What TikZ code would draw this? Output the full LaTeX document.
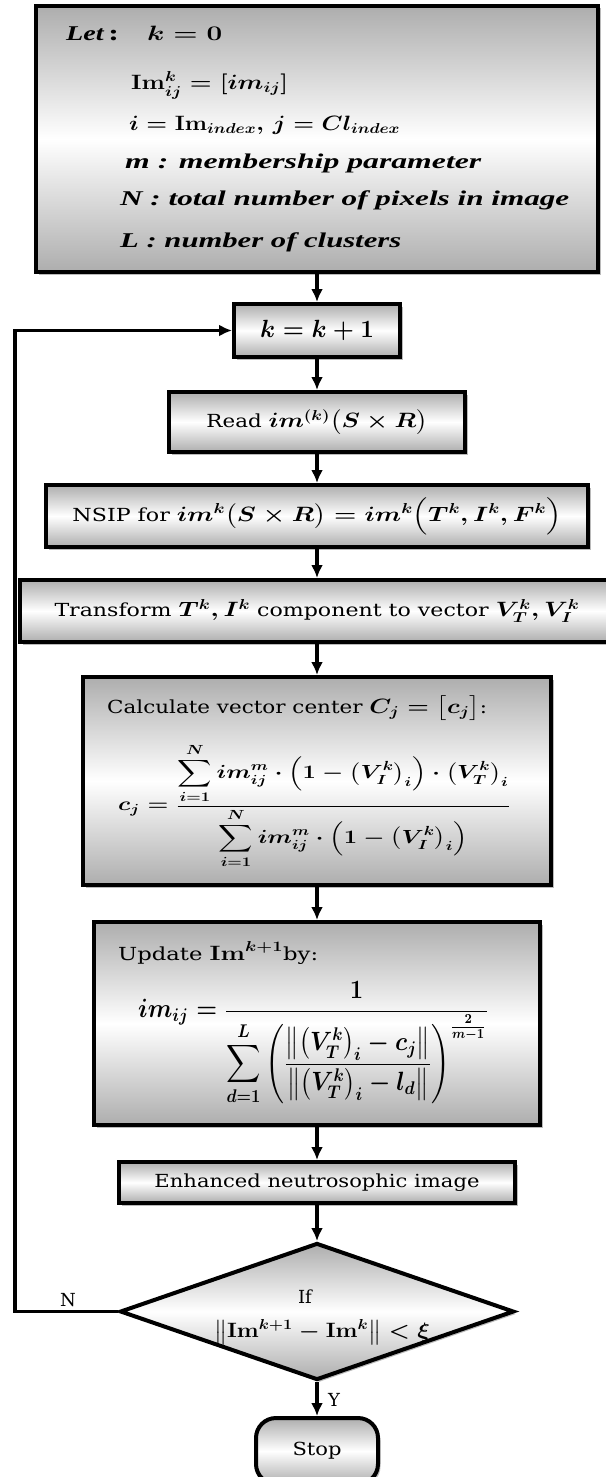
\documentclass[tikz,border=0pt]{standalone}
\usepackage{amsmath}
\usepackage{graphicx}
\usepackage[no-math]{fontspec}
\setmainfont{DejaVu Serif}
\newfontfamily\tnrfont{Liberation Serif}
\usetikzlibrary{shapes.geometric,shadows,arrows.meta}
\newcommand{\tnrbi}{\tnrfont\bfseries\itshape}
\newcommand{\fitw}[2]{\resizebox{#1pt}{\height}{#2}}
\newcommand{\fitwh}[3]{\resizebox*{#1pt}{#2pt}{#3}}
\newcommand{\mymath}[1]{{\fontsize{22}{26}\selectfont$#1$}}
\tikzset{
  box/.style={draw=black, line width=4pt, rectangle, inner sep=0pt,
    top color=black!32, bottom color=black!32, middle color=white,
    drop shadow={shadow xshift=2.5pt, shadow yshift=-2.5pt, fill=black!45, opacity=0.6},
    font=\fontsize{18}{22}\selectfont\boldmath},
  dia/.style={box, diamond},
  txt/.style={inner sep=0pt, font=\fontsize{18}{22}\selectfont\boldmath},
  ttxt/.style={inner sep=0pt, anchor=west, font=\fontsize{21}{25}\selectfont\boldmath},
  arr/.style={line width=3.6pt, -{Latex[length=13pt,width=12pt]}}
}
\begin{document}
\begin{tikzpicture}[x=1pt,y=-1pt]
\useasboundingbox (0,0) rectangle (605,1477);

% boxes
\node[box, minimum width=562pt, minimum height=266pt] (init) at (317,139) {};
\node[ttxt] (t1) at (66,33) {\fitw{156}{{\tnrbi Let}\,\textbf{:}\quad$k=0$}};
\node[ttxt] (t2) at (131,85) {\fitw{157}{$\mathbf{Im}^{k}_{ij}=\left[im_{ij}\right]$}};
\node[ttxt] (t3) at (129,125) {\fitw{271}{$i=\mathbf{Im}_{index},\,j=Cl_{index}$}};
\node[ttxt] (t4) at (125,163) {\fitw{356}{\tnrbi m : membership parameter}};
\node[ttxt] (t5) at (120,200) {\fitw{449}{\tnrbi N : total number of pixels in image}};
\node[ttxt] (t6) at (120,242) {\fitw{281}{\tnrbi L : number of clusters}};

\node[box, minimum width=166pt, minimum height=53pt] (kb) at (317,330.5)
  {\fitw{114}{\fontsize{25}{29}\selectfont$k=k+1$}};

\node[box, minimum width=296pt, minimum height=60pt] (read) at (317,422)
  {\fitw{221}{Read \mymath{im^{(k)}\bigl(S\times R\bigr)}}};

\node[box, minimum width=542pt, minimum height=62pt] (nsip) at (317,516)
  {\fitw{489}{NSIP for \mymath{im^{k}\bigl(S\times R\bigr)=im^{k}\Bigl(T^{k},I^{k},F^{k}\Bigr)}}};

\node[box, minimum width=594pt, minimum height=62pt] (trans) at (317,611)
  {\fitw{525}{Transform \mymath{T^{k},I^{k}} component to vector \mymath{V_T^{k},V_I^{k}}}};

\node[box, minimum width=468pt, minimum height=208pt] (calc) at (317,781) {};
\node[txt, anchor=west] (c1) at (107,708)
  {\fitw{380}{Calculate vector center \mymath{C_j=\bigl[c_j\bigr]}:}};
\node[txt, anchor=west] (c2) at (118,806)
  {\fitwh{392}{124}{$c_j=\dfrac{\displaystyle\sum_{i=1}^{N}im_{ij}^{m}\cdot\Bigl(1-\bigl(V_I^{k}\bigr)_i\Bigr)\cdot\bigl(V_T^{k}\bigr)_i}{\displaystyle\sum_{i=1}^{N}im_{ij}^{m}\cdot\Bigl(1-\bigl(V_I^{k}\bigr)_i\Bigr)}$}};

\node[box, minimum width=446pt, minimum height=203pt] (upd) at (317,1023.5) {};
\node[txt, anchor=west] (u1) at (118,953)
  {\fitw{200}{Update \mymath{\mathbf{Im}^{k+1}}by:}};
\node[txt, anchor=west] (u2) at (138,1043)
  {\fitwh{350}{124}{$im_{ij}=\dfrac{1}{\displaystyle\sum_{d=1}^{L}\left(\dfrac{\bigl\|\bigl(V_T^{k}\bigr)_i-c_j\bigr\|}{\bigl\|\bigl(V_T^{k}\bigr)_i-l_d\bigr\|}\right)^{\frac{2}{m-1}}}$}};

\node[box, minimum width=396pt, minimum height=41pt] (enh) at (317,1182.5)
  {\fitw{325}{Enhanced neutrosophic image}};

\node[dia, minimum width=394pt, minimum height=137pt] (dec) at (317,1311.5) {};
\node[txt] (iftxt) at (305,1297) {If};
\node[txt] (cond) at (322,1332) {\fitw{216}{\mymath{\bigl\|\mathbf{Im}^{k+1}-\mathbf{Im}^{k}\bigr\|<\xi}}};

\node[box, rounded corners=20pt, minimum width=122pt, minimum height=66pt] (stop) at (317,1451)
  {\fitw{49}{Stop}};

\node[txt, font=\fontsize{18}{22}\selectfont] (nlab) at (68,1300) {N};
\node[txt, font=\fontsize{18}{22}\selectfont] (ylab) at (334,1400) {Y};

% connectors
\draw[arr] (init) -- (kb);
\draw[arr] (kb) -- (read);
\draw[arr] (read) -- (nsip);
\draw[arr] (nsip) -- (trans);
\draw[arr] (trans) -- (calc);
\draw[arr] (calc) -- (upd);
\draw[arr] (upd) -- (enh);
\draw[arr] (enh) -- (dec);
\draw[arr] (dec) -- (stop);
\coordinate (lc) at (15,1311.5);
\draw[arr] (dec.west) -- (lc) |- (kb.west);
\end{tikzpicture}
\end{document}
